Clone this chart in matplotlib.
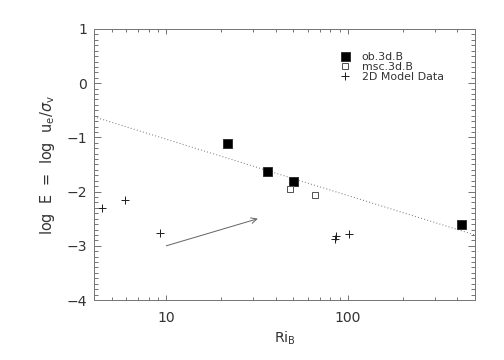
from matplotlib import pyplot as plt
from matplotlib.ticker import LogLocator, MultipleLocator, FixedLocator, NullFormatter
import matplotlib as mpl
import numpy as np

# Data
ob_ri = [21.7, 35.9, 49.8, 417.0]
ob_logE = [-1.11, -1.62, -1.80, -2.60]

msc_ri = [47.9, 65.8]
msc_logE = [-1.95, -2.07]

model_ri = [4.43, 5.9, 9.2, 84.4, 86.3, 100.7]
model_logE = [-2.30, -2.16, -2.76, -2.88, -2.81, -2.78]

# dotted fit line (end points)
fit_ri = [4.0, 500.0]
fit_logE = [-0.62, -2.80]

# arrow start / end
arrow_start = (10.0, -3.0)
arrow_end = (31.9, -2.50)

legend_labels = ['ob.3d.B', 'msc.3d.B', '2D Model Data']

text_color = '#333333'
axis_color = '#777777'

params = {
    'font.family': 'DejaVu Sans',
    'font.size': 14,
    'text.color': text_color,
    'axes.labelcolor': text_color,
    'xtick.color': axis_color,
    'ytick.color': axis_color,
    'xtick.labelcolor': text_color,
    'ytick.labelcolor': text_color,
    'axes.edgecolor': axis_color,
    'axes.linewidth': 1.0,
}
mpl.rcParams.update(params)

fig = plt.figure(figsize=(7, 5), dpi=72)
ax = fig.add_axes([94 / 504, 1 - 300 / 360, 381 / 504, 271 / 360])

# Data
ax.plot(fit_ri, fit_logE, color='#777777', linestyle=(0, (1, 2.2)), linewidth=1.0)
ax.plot(ob_ri, ob_logE, linestyle='none', marker='s', markersize=9,
        markerfacecolor='black', markeredgecolor='#333333', label=legend_labels[0])
ax.plot(msc_ri, msc_logE, linestyle='none', marker='s', markersize=6.5,
        markerfacecolor='white', markeredgecolor='#555555', markeredgewidth=1.0,
        label=legend_labels[1])
ax.plot(model_ri, model_logE, linestyle='none', marker='+', markersize=8,
        color='#222222', markeredgewidth=1.0, label=legend_labels[2])

ax.annotate('', xy=arrow_end, xytext=arrow_start,
            arrowprops=dict(arrowstyle='->', color='#666666', lw=1.0,
                            mutation_scale=14, shrinkA=0, shrinkB=0))

# Axes
ax.set_xscale('log')
ax.set_xlim(4, 500)
ax.set_ylim(-4, 1)
ax.xaxis.set_major_locator(FixedLocator([10, 100]))
ax.xaxis.set_major_formatter(mpl.ticker.FixedFormatter(['10', '100']))
ax.xaxis.set_minor_locator(LogLocator(base=10, subs=np.arange(2, 10)))
ax.xaxis.set_minor_formatter(NullFormatter())
ax.yaxis.set_major_locator(MultipleLocator(1))
ax.yaxis.set_minor_locator(MultipleLocator(0.1))

ax.tick_params(which='both', direction='in', top=True, right=True)
ax.tick_params(axis='y', which='major', length=7, width=1, pad=7)
ax.tick_params(axis='y', which='minor', length=4, width=1)
ax.tick_params(axis='x', which='major', length=5, width=1, pad=11)
ax.tick_params(axis='x', which='minor', length=3, width=1)

ax.set_xlabel(r'Ri$_{\rm B}$', labelpad=5)
ax.set_ylabel(r'log  E  =  log  u$_{\rm e}$/$\sigma_{\rm v}$', fontsize=14.5, labelpad=9)

# Legend
legend = ax.legend(loc='upper left', bbox_to_anchor=(0.625, 0.945), frameon=False,
                   fontsize=11, handlelength=1.0, handletextpad=1.0,
                   labelspacing=0.0, borderpad=0.2, numpoints=1)

fig.savefig('out.png', dpi=72)
